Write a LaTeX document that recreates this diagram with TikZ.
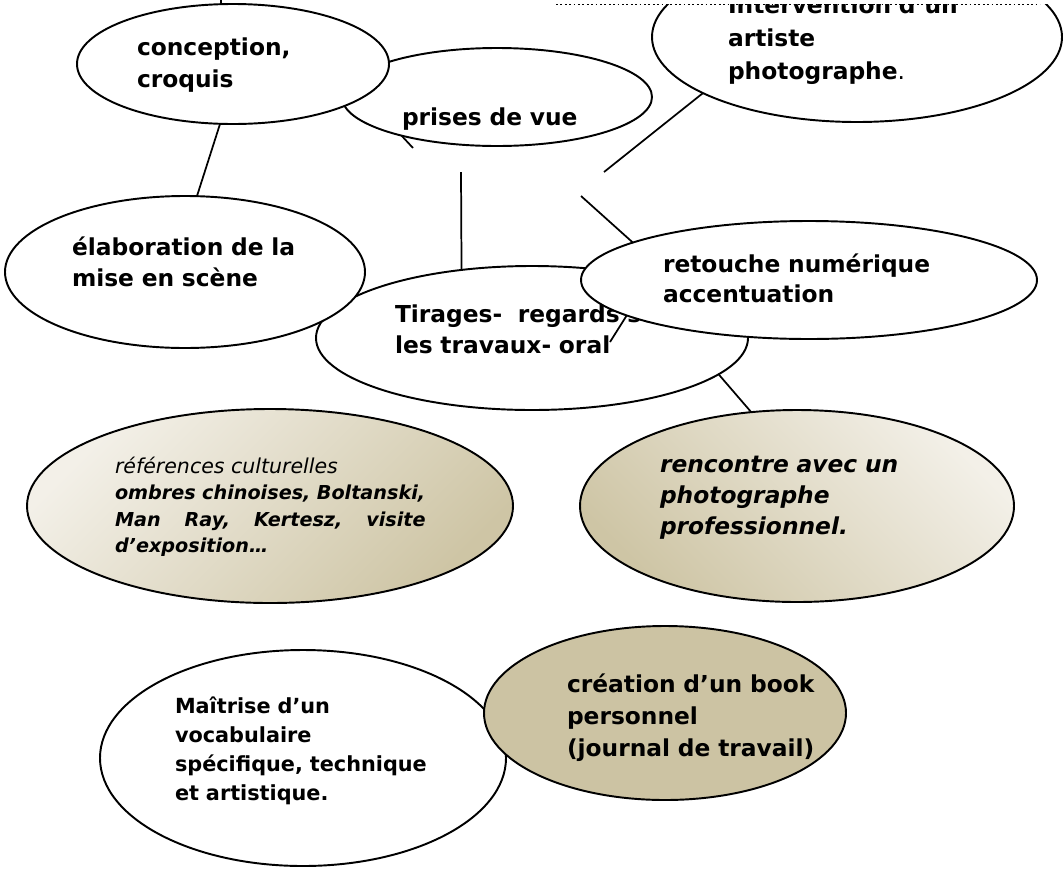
\documentclass[tikz,border=0pt]{standalone}
\usepackage{fontspec}
\setmainfont{DejaVu Sans}
\usetikzlibrary{shapes.geometric}
\definecolor{tanlight}{RGB}{243,240,232}
\definecolor{tandark}{RGB}{206,197,165}
\definecolor{tanfill}{RGB}{204,195,163}
\tikzset{
  bub/.style={ellipse, draw=black, line width=1.45pt, fill=white, inner sep=0pt, outer sep=0pt},
  tanbub/.style={bub, top color=tanlight, bottom color=tandark},
  lbl/.style={anchor=base west, inner sep=0pt, outer sep=0pt, text width=420pt, align=left,
              font=\bfseries\fontsize{17.5}{23.6}\selectfont},
  link/.style={line width=1.3pt},
  frame/.style={line width=1.1pt, dash pattern=on 1.4pt off 1.9pt}
}
\begin{document}
\begin{tikzpicture}[x=0.75pt,y=-0.75pt]
\useasboundingbox (0,0) rectangle (1063,868);

% prises de vue
\node[bub, minimum width=232.5pt, minimum height=73.5pt] (prises) at (497,97) {};
\node[lbl] (prisesT) at (402,125) {prises de vue};

% intervention (cut by the frame)
\begin{scope}
  \clip (540,4.5) rectangle (1063,300);
  \node[bub, minimum width=307.5pt, minimum height=127.5pt] (interv) at (857,37) {};
  \node[lbl, font=\bfseries\fontsize{17.5}{24.75}\selectfont] (intervT) at (728,13)
    {Intervention d’un\\artiste\\photographe{\mdseries.}};
\end{scope}

% conception
\node[bub, minimum width=234pt, minimum height=90pt] (conc) at (233,64) {};
\node[lbl, font=\bfseries\fontsize{17.5}{24}\selectfont] (concT) at (137,55) {conception,\\croquis};

% tirages
\node[bub, minimum width=324pt, minimum height=108pt] (tir) at (532,338) {};
\node[lbl, font=\bfseries\fontsize{17.5}{23.25}\selectfont] (tirT) at (395,322)
  {Tirages-~~regards sur\\les travaux- oral};

% elaboration
\node[bub, minimum width=270pt, minimum height=114pt] (elab) at (185,272) {};
\node[lbl, font=\bfseries\fontsize{17.5}{23.25}\selectfont] (elabT) at (72,255)
  {élaboration de la\\mise en scène};

% retouche
\node[bub, minimum width=342pt, minimum height=88.5pt] (ret) at (809,280) {};
\node[lbl, font=\bfseries\fontsize{17.5}{22.5}\selectfont] (retT) at (663,272)
  {retouche numérique\\accentuation};

% references
\node[tanbub, shading angle=45, minimum width=364.5pt, minimum height=145.5pt] (ref) at (270,506) {};
\node[lbl, font=\bfseries\itshape\fontsize{14.4}{19.9}\selectfont] (refT) at (115,473)
  {{\mdseries\fontsize{15.4}{19.9}\selectfont références culturelles}\\
   ombres chinoises, Boltanski,\\
   \leavevmode\hbox to 233pt{Man\hfill Ray,\hfill Kertesz,\hfill visite}\\
   d’exposition…};

% rencontre
\node[tanbub, shading angle=-45, minimum width=325.5pt, minimum height=144pt] (renc) at (797,506) {};
\node[lbl, font=\bfseries\itshape\fontsize{17.5}{23.6}\selectfont] (rencT) at (660,472)
  {rencontre avec un\\photographe\\professionnel.};

% maitrise
\node[bub, minimum width=304.5pt, minimum height=162pt] (mait) at (303,758) {};
\node[lbl, font=\bfseries\fontsize{15.6}{21.75}\selectfont] (maitT) at (175,713)
  {Maîtrise d’un\\vocabulaire\\spécifique, technique\\et artistique.};

% creation
\node[bub, fill=tanfill, minimum width=271.5pt, minimum height=130.5pt] (crea) at (665,713) {};
\node[lbl, font=\bfseries\fontsize{17.5}{24}\selectfont] (creaT) at (567,692)
  {création d’un book\\personnel\\(journal de travail)};

% free ends
\coordinate (topEnd) at (221,-3);
\coordinate (pEnd) at (413,148);
\coordinate (vEnd) at (461,172);
\coordinate (iEnd) at (604,172);
\coordinate (rEnd) at (581,196);
\coordinate (tEnd) at (610,342);
\coordinate (frameL) at (556,4.5);
\coordinate (frameR) at (1040,4.5);

% connectors
\draw[link] (topEnd) -- (topEnd |- conc.north);
\draw[link] ([xshift=-9.75pt]conc.south) -- ([xshift=9pt]elab.north);
\draw[link] (prises.202.5) -- (pEnd);
\draw[link] (vEnd) -- (tir.136.2);
\draw[link] (iEnd) -- (interv.200.9);
\draw[link] (rEnd) -- (ret.168.1);
\draw[link] (tEnd) -- (ret.191.9);
\draw[link] (tir.-11.3) -- (renc.116.6);

% frame
\draw[frame] (frameL) -- (frameR);
\end{tikzpicture}
\end{document}
